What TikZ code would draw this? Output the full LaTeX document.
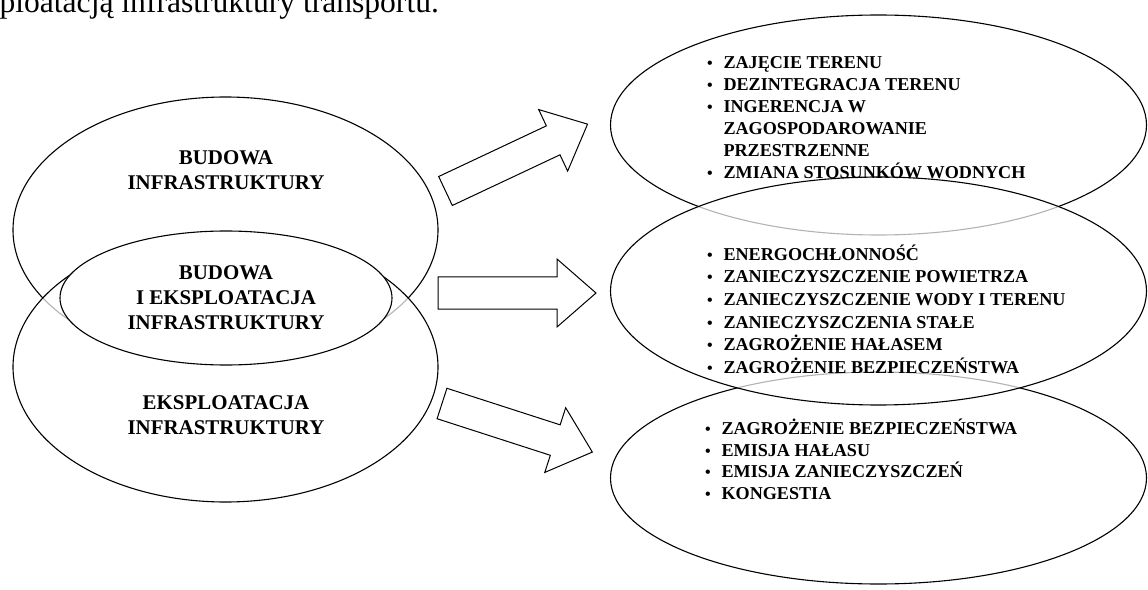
\documentclass[tikz,border=0pt]{standalone}
\usepackage{fontspec}
\setmainfont{Liberation Serif}
\newcommand{\bul}{\makebox[17bp][l]{\hspace*{0.5bp}\fontsize{16}{16}\selectfont\textbullet}}
\newcommand{\ind}{\hspace*{17bp}}
\newcommand{\fst}{\rule{0pt}{15bp}}
\begin{document}
\begin{tikzpicture}[x=1bp,y=-1bp,line width=1.1bp,
  lbl/.style={font=\fontsize{21}{25}\selectfont\bfseries,align=center,inner sep=0,anchor=north},
  lst/.style={font=\fontsize{18.2}{22}\selectfont\bfseries,align=left,inner sep=0,anchor=north west},
  halfwhite/.style={draw=black,fill=white,fill opacity=0.7,draw opacity=1},
  blk/.style={draw=black,fill=white,line width=1bp,line join=miter}]
\useasboundingbox (0,0) rectangle (1148,590);
% caption (cut at top)
\node[anchor=base west,font=\fontsize{31.7}{36}\selectfont,inner sep=0] (cap) at (-1,13) {ploatacją infrastruktury transportu.};
% left ellipses
\draw (225.5,230) ellipse [x radius=212.5,y radius=133];
\draw[halfwhite] (225.5,367) ellipse [x radius=212.5,y radius=135];
\draw[fill=white] (226,298) ellipse [x radius=166,y radius=67];
% right ellipses
\draw (878.5,125) ellipse [x radius=268,y radius=110];
\draw[fill=white] (878.5,478) ellipse [x radius=268,y radius=106];
\draw[halfwhite] (878.5,291) ellipse [x radius=268,y radius=114];
% left labels
\node[lbl] (bud) at (226,149) {\fst BUDOWA\\INFRASTRUKTURY};
\node[lbl] (bei) at (226,264) {\fst BUDOWA\\I EKSPLOATACJA\\INFRASTRUKTURY};
\node[lbl] (eks) at (226,394) {\fst EKSPLOATACJA\\INFRASTRUKTURY};
% right lists
\node[lst] (l1) at (706,53) {\fst\bul ZAJĘCIE TERENU\\
  \bul DEZINTEGRACJA TERENU\\
  \bul INGERENCJA W\\
  \ind ZAGOSPODAROWANIE\\
  \ind PRZESTRZENNE\\
  \bul ZMIANA STOSUNKÓW WODNYCH};
\node[lst,font=\fontsize{18.2}{22.8}\selectfont\bfseries] (l2) at (706,244) {\fst\bul ENERGOCHŁONNOŚĆ\\
  \bul ZANIECZYSZCZENIE POWIETRZA\\
  \bul ZANIECZYSZCZENIE WODY I TERENU\\
  \bul ZANIECZYSZCZENIA STAŁE\\
  \bul ZAGROŻENIE HAŁASEM\\
  \bul ZAGROŻENIE BEZPIECZEŃSTWA};
\node[lst] (l3) at (704,418) {\fst\bul ZAGROŻENIE BEZPIECZEŃSTWA\\
  \bul EMISJA HAŁASU\\
  \bul EMISJA ZANIECZYSZCZEŃ\\
  \bul KONGESTIA};
% block arrows
\begin{scope}[shift={(445.5,191)},rotate=25.2]
  \draw[blk] (0,16)--(119,16)--(119,34)--(157,0)--(119,-34)--(119,-16)--(0,-16)--cycle;
\end{scope}
\begin{scope}[shift={(438,293)}]
  \draw[blk] (0,16)--(119,16)--(119,34)--(158,0)--(119,-34)--(119,-16)--(0,-16)--cycle;
\end{scope}
\begin{scope}[shift={(442,403.5)},rotate=-17.9]
  \draw[blk] (0,16)--(119,16)--(119,34)--(158,0)--(119,-34)--(119,-16)--(0,-16)--cycle;
\end{scope}
\end{tikzpicture}
\end{document}
